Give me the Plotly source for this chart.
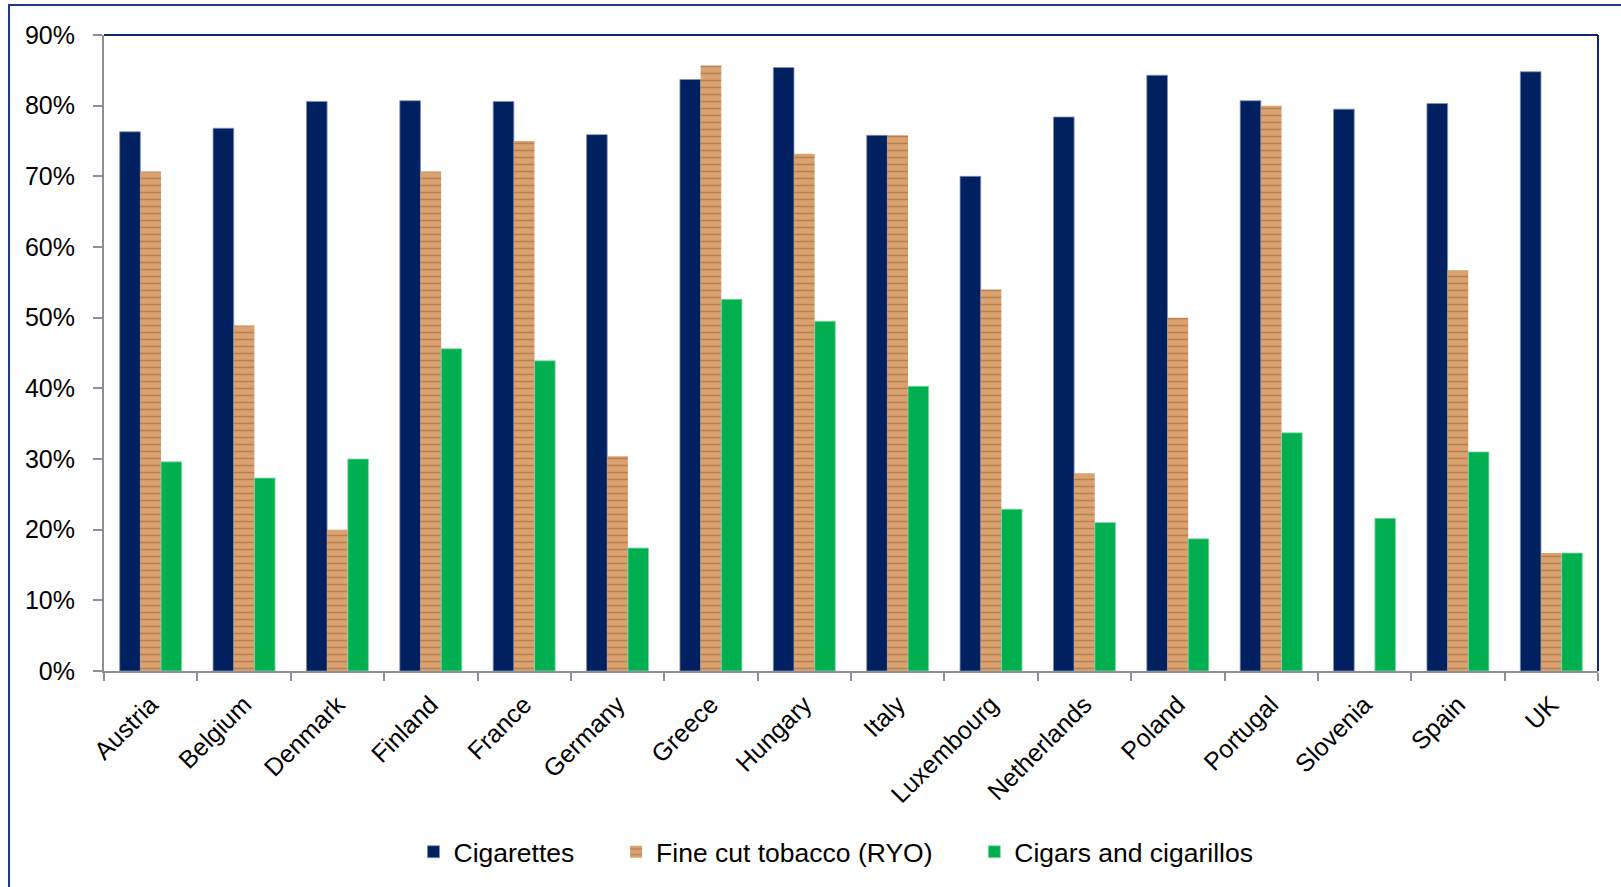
import plotly.graph_objects as go

countries = ["Austria", "Belgium", "Denmark", "Finland", "France", "Germany", "Greece",
             "Hungary", "Italy", "Luxembourg", "Netherlands", "Poland", "Portugal",
             "Slovenia", "Spain", "UK"]
cigarettes = [76.3, 76.8, 80.6, 80.7, 80.6, 75.9, 83.7, 85.4, 75.8, 70.0, 78.4, 84.3, 80.7, 79.5, 80.3, 84.8]
fine_cut = [70.7, 48.9, 20.0, 70.7, 75.0, 30.4, 85.7, 73.2, 75.8, 54.0, 28.0, 50.0, 80.0, None, 56.7, 16.7]
cigars = [29.6, 27.3, 30.0, 45.6, 43.9, 17.4, 52.6, 49.5, 40.3, 22.9, 21.0, 18.7, 33.7, 21.6, 31.0, 16.7]
series_names = ["Cigarettes", "Fine cut tobacco (RYO)", "Cigars and cigarillos"]
y_ticks = [0, 10, 20, 30, 40, 50, 60, 70, 80, 90]

FONT = "Arial, Liberation Sans, sans-serif"
W, H = 1621, 887
L, R, T, B = 104, 23, 35, 216
pw, ph = W - L - R, H - T - B
PAD = "\u00a0" * 5

fig = go.Figure()
fig.add_trace(go.Bar(x=countries, y=cigarettes, name=series_names[0] + PAD,
                     marker=dict(color="#00205F", line=dict(color="#8391B8", width=0.8))))
fig.add_trace(go.Bar(x=countries, y=fine_cut, name=series_names[1] + PAD,
                     marker=dict(color="#D9A270", line=dict(width=0),
                                 pattern=dict(shape="-", fgcolor="#8F5526", fgopacity=0.45,
                                              size=7, solidity=0.22))))
fig.add_trace(go.Bar(x=countries, y=cigars, name=series_names[2],
                     marker=dict(color="#00B050", line=dict(color="#8AD9A8", width=0.8))))

def px_x(px):
    return (px - L) / pw

def px_y(py):
    return (H - B - py) / ph

shapes = [
    dict(type="line", xref="paper", yref="paper", x0=0, y0=1, x1=1, y1=1,
         line=dict(color="#0F2A6B", width=2)),
    dict(type="line", xref="paper", yref="paper", x0=1, y0=1, x1=1, y1=0,
         line=dict(color="#0F2A6B", width=2)),
    dict(type="rect", xref="paper", yref="paper", x0=px_x(9), y0=px_y(5),
         x1=px_x(1640), y1=px_y(905), line=dict(color="#1E3C80", width=2),
         fillcolor="rgba(0,0,0,0)", layer="below"),
]

fig.update_layout(
    width=W, height=H,
    margin=dict(l=L, r=R, t=T, b=B, autoexpand=False),
    paper_bgcolor="white", plot_bgcolor="white",
    barmode="group", bargap=0.336, bargroupgap=0,
    font=dict(family=FONT, size=25, color="black"),
    showlegend=True,
    legend=dict(orientation="h", x=px_x(836), xanchor="center", y=px_y(852), yanchor="middle",
                font=dict(size=26.5), bgcolor="rgba(0,0,0,0)", traceorder="normal"),
    shapes=shapes,
)
fig.update_xaxes(type="category", showgrid=False, showline=True, linecolor="#8A8F99", linewidth=2,
                 ticks="outside", tickson="boundaries", ticklen=8, tickcolor="#8A8F99", tickwidth=2,
                 tickangle=-45, ticklabelstandoff=7, tickfont=dict(size=25, family=FONT))
fig.update_yaxes(range=[0, 90], tickvals=y_ticks, ticktext=[f"{v}%" for v in y_ticks],
                 showgrid=False, showline=True, linecolor="#8A8F99", linewidth=2, zeroline=False,
                 ticks="outside", ticklen=9, tickcolor="#8A8F99", tickwidth=2,
                 ticklabelstandoff=13, tickfont=dict(size=25, family=FONT))

fig.write_html("out.html")
